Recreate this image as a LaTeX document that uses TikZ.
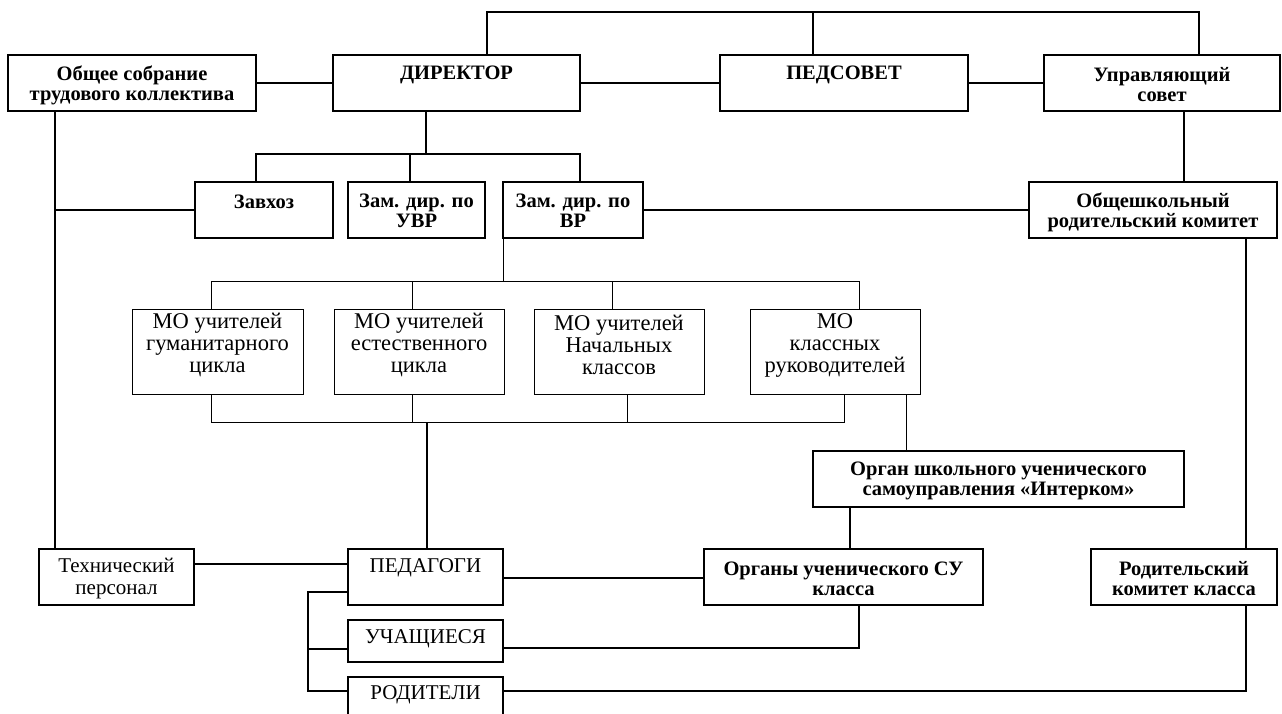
\documentclass[tikz,border=0pt]{standalone}
\usepackage{fontspec}
\setmainfont{Liberation Serif}
\newcommand{\bx}[5]{\node[box, minimum width={#4-#2}, minimum height={#5-#3}] (#1) at ({(#2+#4)/2},{(#3+#5)/2}) {};}
\begin{document}
\begin{tikzpicture}[x=1pt,y=-1pt, line width=1.3pt,
  box/.style={draw, inner sep=0pt, outer sep=0pt},
  bt/.style={font=\bfseries\fontsize{20.5}{20}\selectfont, align=center, inner sep=0pt},
  rt/.style={font=\fontsize{21}{22}\selectfont, align=center, inner sep=0pt},
  mt/.style={font=\fontsize{22.5}{22}\selectfont, align=center, inner sep=0pt},
  thin/.style={line width=1pt}]
\useasboundingbox (0,0) rectangle (1282,713);
\clip (0,0) rectangle (1282,713);
% boxes
\bx{obs}{8}{55}{256}{111}
\bx{dir}{333}{55}{580}{111}
\bx{ped}{720}{55}{968}{111}
\bx{upr}{1044}{55}{1280}{111}
\bx{zav}{195}{182}{333}{238}
\bx{uvr}{348}{182}{485}{238}
\bx{vr}{503}{182}{643}{238}
\bx{obsh}{1029}{182}{1277}{238}
\begin{scope}[thin]
\bx{mo1}{132}{309}{303}{394}
\bx{mo2}{334}{309}{504}{394}
\bx{mo3}{534}{309}{704}{394}
\bx{mo4}{750}{309}{920}{394}
\end{scope}
\bx{org}{813}{451}{1184}{507}
\bx{orgkl}{704}{549}{983}{605}
\bx{rodk}{1091}{549}{1277}{605}
\bx{tech}{39}{549}{194}{605}
\bx{pedag}{348}{549}{503}{605}
\bx{uch}{348}{620}{503}{662}
\bx{rod}{348}{677}{503}{722}
% texts
\node[bt] at (132,85) {Общее собрание\\трудового коллектива};
\node[bt] at (456.5,75) {ДИРЕКТОР};
\node[bt] at (844,75) {ПЕДСОВЕТ};
\node[bt] at (1162,85) {Управляющий\\совет};
\node[bt] at (264,202) {Завхоз};
\node[bt] at (416.5,211) {Зам. дир. по\\УВР};
\node[bt] at (573,211) {Зам. дир. по\\ВР};
\node[bt] at (1153,212.5) {Общешкольный\\родительский комитет};
\node[mt] at (217.5,345) {МО учителей\\гуманитарного\\цикла};
\node[mt] at (419,345) {МО учителей\\естественного\\цикла};
\node[mt] at (619,345) {МО учителей\\Начальных\\классов};
\node[mt] at (835,345) {МО\\классных\\руководителей};
\node[bt] at (998.5,481) {Орган школьного ученического\\самоуправления «Интерком»};
\node[bt] at (843.5,579) {Органы ученического СУ\\класса};
\node[bt] at (1184,579) {Родительский\\комитет класса};
\node[rt] at (116.5,578.5) {Технический\\персонал};
\node[rt] at (425.5,568) {ПЕДАГОГИ};
\node[rt] at (425.5,639) {УЧАЩИЕСЯ};
\node[rt] at (425.5,695) {РОДИТЕЛИ};
% junction coordinates
\coordinate (tL) at (487,12);
\coordinate (tM) at (813,12);
\coordinate (tR) at (1199,12);
\coordinate (d1) at (426,154);
\coordinate (b1) at (256,154);
\coordinate (b2) at (410,154);
\coordinate (b3) at (580,154);
\coordinate (lv) at (55,210);
\coordinate (hv) at (0,210);
\coordinate (ux) at (1184,0);
\coordinate (mb) at (503,281);
\coordinate (m1) at (211,281);
\coordinate (m2) at (412,281);
\coordinate (m3) at (612,281);
\coordinate (m4) at (859,281);
\coordinate (n1) at (211,422);
\coordinate (n2) at (412,422);
\coordinate (n3) at (627,422);
\coordinate (n4) at (844,422);
\coordinate (n5) at (427,422);
\coordinate (o1) at (906,0);
\coordinate (o2) at (850,0);
\coordinate (tp) at (0,564);
\coordinate (pp) at (0,578);
\coordinate (u1) at (859,648);
\coordinate (k1) at (308,592);
\coordinate (k2) at (308,649);
\coordinate (k3) at (308,691);
\coordinate (r1) at (1246,691);
% connectors
\draw (tL |- dir.north) -- (tL) -- (tR) -- (tR |- upr.north);
\draw (tM) -- (tM |- ped.north);
\draw (obs) -- (dir);
\draw (dir) -- (ped);
\draw (ped) -- (upr);
\draw (d1 |- dir.south) -- (d1);
\draw (b1 |- zav.north) -- (b1) -- (b3) -- (b3 |- vr.north);
\draw (b2) -- (b2 |- uvr.north);
\draw (lv |- obs.south) -- (lv |- tech.north);
\draw (lv) -- (lv -| zav.west);
\draw (vr.east |- hv) -- (obsh.west |- hv);
\draw (ux |- upr.south) -- (ux |- obsh.north);
\begin{scope}[thin]
\draw (vr.south west) -- (mb);
\draw (m1 |- mo1.north) -- (m1) -- (m4) -- (m4 |- mo4.north);
\draw (m2) -- (m2 |- mo2.north);
\draw (m3) -- (m3 |- mo3.north);
\draw (n1 |- mo1.south) -- (n1) -- (n4) -- (n4 |- mo4.south);
\draw (n2 |- mo2.south) -- (n2);
\draw (n3 |- mo3.south) -- (n3);
\draw (o1 |- mo4.south) -- (o1 |- org.north);
\end{scope}
\draw (n5) -- (n5 |- pedag.north);
\draw (o2 |- org.south) -- (o2 |- orgkl.north);
\draw (pedag.east |- pp) -- (orgkl.west |- pp);
\draw (tech.east |- tp) -- (pedag.west |- tp);
\draw (u1 |- orgkl.south) -- (u1) -- (u1 -| uch.east);
\draw (k1 -| pedag.west) -- (k1) -- (k3) -- (k3 -| rod.west);
\draw (k2) -- (k2 -| uch.west);
\draw (r1 |- obsh.south) -- (r1 |- rodk.north);
\draw (r1 |- rodk.south) -- (r1) -- (r1 -| rod.east);
\end{tikzpicture}
\end{document}
